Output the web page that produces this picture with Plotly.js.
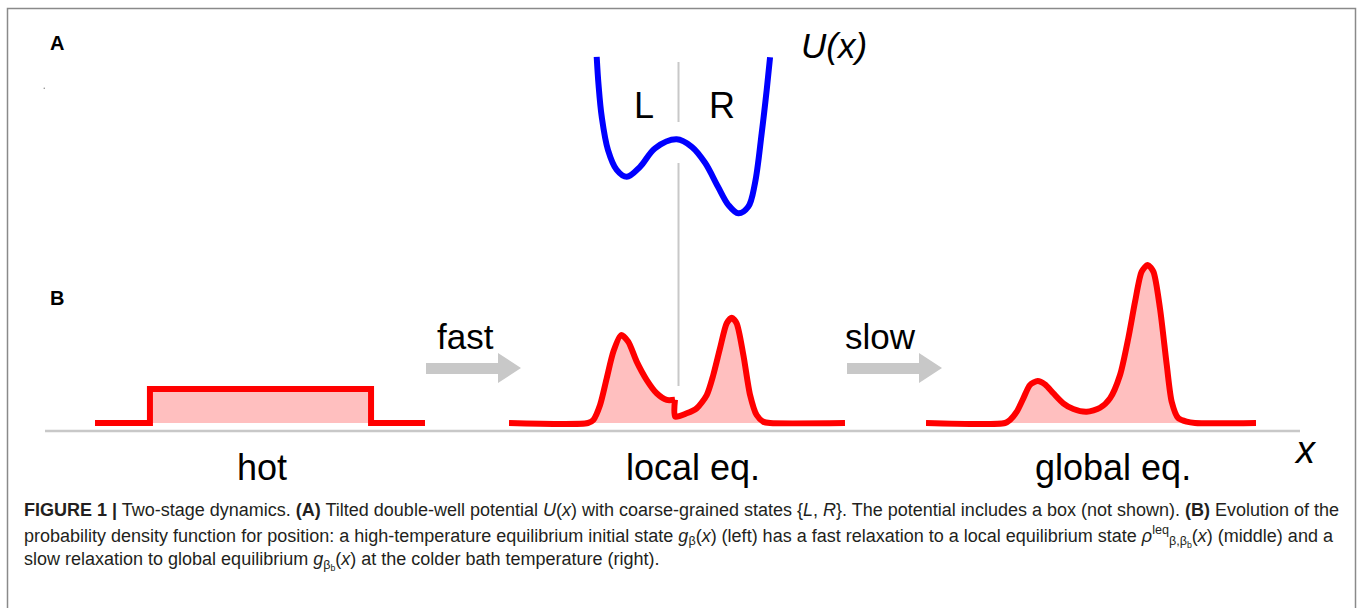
<!DOCTYPE html>
<html><head><meta charset="utf-8">
<script src="https://cdn.plot.ly/plotly-3.0.1.min.js"></script>
<style>html,body{margin:0;padding:0;background:#fff}#chart{width:1358px;height:608px}</style>
</head><body><div id="chart"></div>
<script>
// ---------------- data ----------------
// Potential U(x), position x in the same units as the local-eq panel
const potX = [-0.478, -0.467, -0.448, -0.411, -0.359, -0.299, -0.220, -0.131, -0.002, 0.088, 0.167, 0.244, 0.305, 0.365, 0.424, 0.464, 0.504, 0.534, 0.554];
const potU = [3.13, 2.57, 1.93, 1.27, 0.87, 0.73, 0.93, 1.30, 1.48, 1.33, 1.01, 0.53, 0.17, 0.00, 0.13, 0.60, 1.60, 2.47, 3.12];

// hot: high-temperature equilibrium (uniform in box)
const hotX = [-1, -0.667, -0.667, 0.673, 0.673, 1];
const hotP = [0, 0, 0.214, 0.214, 0, 0];

// local equilibrium (left of barrier / right of barrier)
const locLX = [-1, -0.530, -0.498, -0.458, -0.418, -0.379, -0.333, -0.290, -0.240, -0.180, -0.121, -0.061, -0.012];
const locLP = [0, 0, 0.019, 0.113, 0.283, 0.448, 0.553, 0.511, 0.386, 0.270, 0.187, 0.145, 0.146];
const locRX = [-0.012, -0.011, 0.058, 0.117, 0.177, 0.216, 0.256, 0.296, 0.326, 0.355, 0.395, 0.435, 0.474, 0.514, 0.554, 1];
const locRP = [0.146, 0.040, 0.061, 0.092, 0.176, 0.302, 0.470, 0.627, 0.662, 0.627, 0.428, 0.176, 0.050, 0.008, 0, 0];

// global equilibrium
const gloX = [-1, -0.521, -0.491, -0.450, -0.410, -0.370, -0.323, -0.279, -0.228, -0.168, -0.107, -0.026, 0.055, 0.115, 0.176, 0.226, 0.267, 0.307, 0.344, 0.378, 0.418, 0.459, 0.489, 0.529, 0.580, 0.63, 1];
const gloP = [0, 0, 0.019, 0.071, 0.155, 0.239, 0.264, 0.243, 0.187, 0.124, 0.088, 0.071, 0.096, 0.155, 0.302, 0.533, 0.763, 0.952, 0.994, 0.952, 0.721, 0.365, 0.134, 0.030, 0.008, 0, 0];

const barrierX = 0.009;
const stateLabels = ["L", "R"];
const panelLabels = ["hot", "local eq.", "global eq."];
const arrowLabels = ["fast", "slow"];

// ---------------- layout helpers ----------------
const W = 1358, H = 608;
const px = p => p / W;
const py = p => 1 - p / H;
const FONT = "Liberation Sans, Arial, Helvetica, sans-serif";
const RED = "#ff0000", FILL = "rgba(255,0,0,0.25)";

const densBase = 423, densUnit = 159;
const potZero = 213.3, potUnit = 50;

const hidden = {visible: false, fixedrange: true, showgrid: false, zeroline: false};

function dens(x, y, xa) {
  return {x: x, y: y, xaxis: xa, yaxis: "y2", type: "scatter", mode: "lines",
    line: {color: RED, width: 6, shape: "spline", smoothing: 0.7},
    fill: "tozeroy", fillcolor: FILL, hoverinfo: "skip", showlegend: false};
}

const hotTrace = dens(hotX, hotP, "x");
hotTrace.line.shape = "linear";

const traces = [
  hotTrace,
  dens(locLX, locLP, "x2"),
  dens(locRX, locRP, "x2"),
  dens(gloX, gloP, "x3"),
  {x: potX, y: potU, xaxis: "x2", yaxis: "y", type: "scatter", mode: "lines",
   line: {color: "#0000ff", width: 6, shape: "spline", smoothing: 1}, hoverinfo: "skip", showlegend: false}
];

function arrowPath(x0) {
  const pts = [[x0, 363], [x0 + 72, 363], [x0 + 72, 353], [x0 + 95, 368], [x0 + 72, 383], [x0 + 72, 374], [x0, 374]];
  return "M" + pts.map(p => px(p[0]) + "," + py(p[1])).join(" L") + " Z";
}

const GRAY = "#c8c8c8";
const shapes = [
  {type: "rect", xref: "paper", yref: "paper", x0: px(7.5), x1: px(1355.5), y0: py(8.5), y1: py(650), line: {color: "#8a8a8a", width: 1.5}, fillcolor: "rgba(0,0,0,0)"},
  {type: "line", xref: "paper", yref: "paper", x0: px(45), x1: px(1300), y0: py(431), y1: py(431), line: {color: GRAY, width: 2.5}},
  {type: "line", xref: "x2", yref: "paper", x0: barrierX, x1: barrierX, y0: py(62), y1: py(122), line: {color: GRAY, width: 2}},
  {type: "line", xref: "x2", yref: "paper", x0: barrierX, x1: barrierX, y0: py(163), y1: py(386), line: {color: GRAY, width: 2}},
  {type: "path", xref: "paper", yref: "paper", path: arrowPath(426), fillcolor: GRAY, line: {width: 0}},
  {type: "path", xref: "paper", yref: "paper", path: arrowPath(847), fillcolor: GRAY, line: {width: 0}},
  {type: "circle", xref: "paper", yref: "paper", x0: px(43.5), x1: px(45), y0: py(87.5), y1: py(89), fillcolor: "#888", line: {width: 0}}
];

function ann(text, x, y, size, opts) {
  return Object.assign({text: text, x: px(x), y: py(y), xref: "paper", yref: "paper", showarrow: false,
    xanchor: "center", yanchor: "middle", font: {family: FONT, size: size, color: "#000"}}, opts || {});
}

const capFont = {family: FONT, size: 18, color: "#231f20"};
const cap1 = "<b>FIGURE 1 |</b> Two-stage dynamics. <b>(A)</b> Tilted double-well potential <i>U</i>(<i>x</i>) with coarse-grained states {<i>L</i>, <i>R</i>}. The potential includes a box (not shown). <b>(B)</b> Evolution of the";
const cap2 = "probability density function for position: a high-temperature equilibrium initial state <i>g</i><sub>β</sub>(<i>x</i>) (left) has a fast relaxation to a local equilibrium state <i>ρ</i><sup>leq</sup><sub>β,β<sub>b</sub></sub>(<i>x</i>) (middle) and a";
const cap3 = "slow relaxation to global equilibrium <i>g</i><sub>β<sub>b</sub></sub>(<i>x</i>) at the colder bath temperature (right).";

const annotations = [
  ann("<b>A</b>", 57, 43, 20),
  ann("<b>B</b>", 57, 298, 20),
  ann("<i>U(x)</i>", 834, 45, 35),
  ann(stateLabels[0], 644, 105, 36),
  ann(stateLabels[1], 722, 105, 36),
  ann(arrowLabels[0], 465, 336, 35),
  ann(arrowLabels[1], 880, 336, 35),
  ann(panelLabels[0], 262, 467, 36),
  ann(panelLabels[1], 693, 467, 36),
  ann(panelLabels[2], 1113, 467, 36),
  ann("<i>x</i>", 1305, 450, 38),
  ann(cap1, 22, 510, 18, {xanchor: "left", font: capFont}),
  ann(cap2, 22, 536, 18, {xanchor: "left", font: capFont}),
  ann(cap3, 22, 561, 18, {xanchor: "left", font: capFont})
];

const layout = {
  width: W, height: H, margin: {l: 0, r: 0, t: 0, b: 0, pad: 0},
  paper_bgcolor: "#fff", plot_bgcolor: "rgba(0,0,0,0)", showlegend: false,
  xaxis: Object.assign({domain: [px(95), px(425)], range: [-1, 1], anchor: "y2"}, hidden),
  xaxis2: Object.assign({domain: [px(509), px(845)], range: [-1, 1], anchor: "y2"}, hidden),
  xaxis3: Object.assign({domain: [px(926), px(1256)], range: [-1, 1], anchor: "y2"}, hidden),
  yaxis: Object.assign({domain: [0, 1], range: [-(H - potZero) / potUnit, potZero / potUnit], anchor: "x2"}, hidden),
  yaxis2: Object.assign({domain: [0, 1], range: [-(H - densBase) / densUnit, densBase / densUnit], anchor: "x"}, hidden),
  shapes: shapes,
  annotations: annotations
};

Plotly.newPlot("chart", traces, layout, {displayModeBar: false});
</script>
</body></html>
